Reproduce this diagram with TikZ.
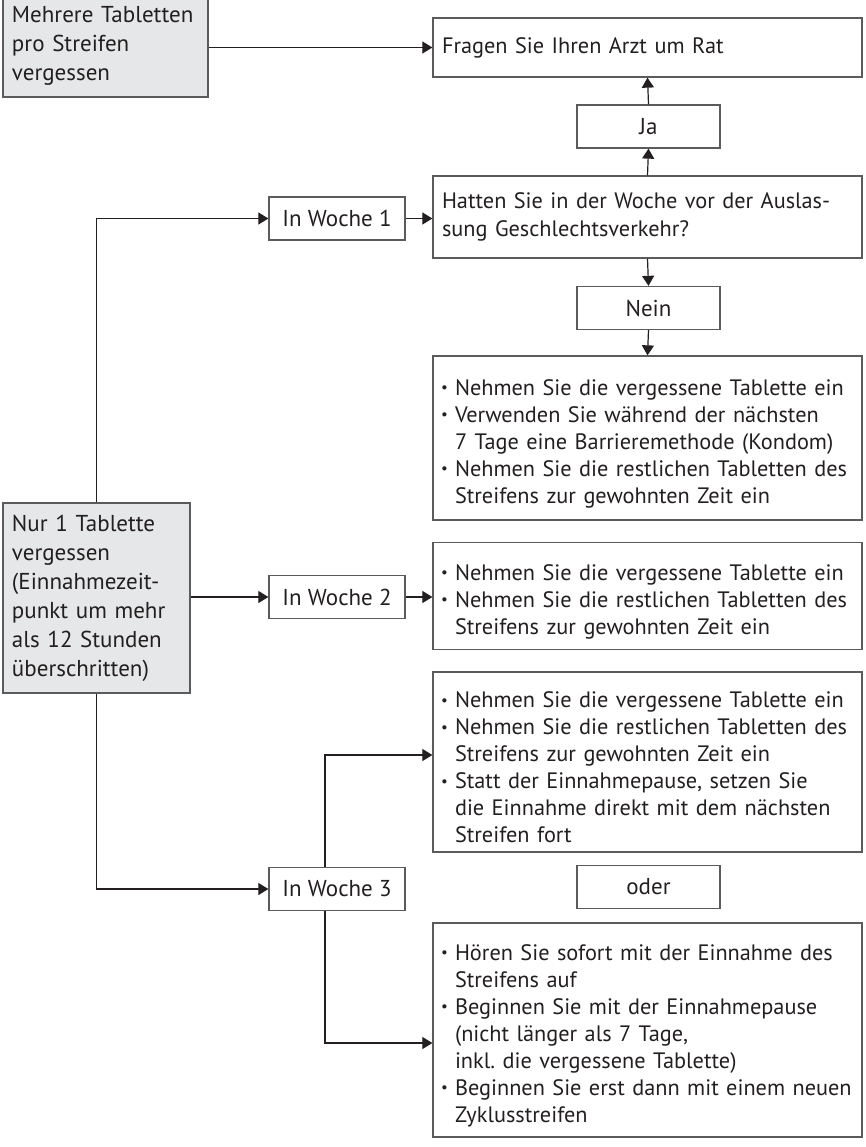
\documentclass[tikz,border=0pt]{standalone}
\usepackage{fontspec}
\setmainfont{PT Sans}
\usetikzlibrary{arrows.meta}
\setlength{\parindent}{0pt}
\frenchspacing
\definecolor{boxgray}{HTML}{E6E7E8}
\definecolor{inkgray}{HTML}{231F20}
\definecolor{framegray}{HTML}{5A5B5D}
\newcommand{\bpoint}{\par\noindent%
  \makebox[14pt][l]{\raisebox{2.5pt}{\fontsize{15}{15}\selectfont\textbullet}}}
\newcommand{\hang}{\hspace*{14pt}}
\begin{document}
\begin{tikzpicture}[x=1pt,y=-1pt,
    box/.style={draw=framegray, line width=1.3pt, text=inkgray, inner xsep=9pt,
      inner ysep=0pt, font=\fontsize{22.3}{28}\selectfont},
    greybox/.style={box, fill=boxgray, align=left, font=\fontsize{23}{29}\selectfont},
    askbox/.style={box, align=left},
    tipbox/.style={box, align=left, inner xsep=8pt, font=\fontsize{22.3}{27}\selectfont},
    smallbox/.style={box, align=center, minimum width=143pt, minimum height=43pt,
      font=\fontsize{23}{28}\selectfont},
    link/.style={-{Triangle[length=10pt,width=12pt]}, line width=1.2pt, draw=inkgray}]
  \useasboundingbox (0,0) rectangle (865,1147);
  % left column
  \node[greybox, text width=187pt, minimum height=102pt] (multi) at (105.5,46)
    {Mehrere Tabletten\\pro Streifen\\vergessen};
  \node[greybox, text width=169pt, minimum height=190pt] (nur) at (96.5,598)
    {Nur 1 Tablette\\vergessen\\(Einnahmezeit-\\punkt um mehr\\als 12 Stunden\\überschritten)};
  % weeks
  \node[smallbox, minimum width=136pt] (w1) at (337,218.5) {In Woche 1};
  \node[smallbox, minimum width=136pt] (w2) at (337,597) {In Woche 2};
  \node[smallbox, minimum width=136pt] (w3) at (337,889) {In Woche 3};
  % right column
  \node[askbox, text width=411pt, minimum height=59pt] (rat) at (647.5,47.5)
    {Fragen Sie Ihren Arzt um Rat};
  \node[smallbox] (ja) at (648.5,126.5) {Ja};
  \node[askbox, text width=411pt, minimum height=82pt] (hatten) at (647.5,217)
    {Hatten Sie in der Woche vor der Auslas-\\sung Geschlechtsverkehr?};
  \node[smallbox] (nein) at (648.5,308) {Nein};
  \node[tipbox, text width=413pt, minimum height=164pt] (tip1) at (647.5,438)
    {\bpoint Nehmen Sie die vergessene Tablette ein
     \bpoint Verwenden Sie während der nächsten\\\hang 7 Tage eine Barrieremethode (Kondom)
     \bpoint Nehmen Sie die restlichen Tabletten des\\\hang Streifens zur gewohnten Zeit ein};
  \node[tipbox, text width=413pt, minimum height=107pt] (tip2) at (647.5,596)
    {\bpoint Nehmen Sie die vergessene Tablette ein
     \bpoint Nehmen Sie die restlichen Tabletten des\\\hang Streifens zur gewohnten Zeit ein};
  \node[tipbox, text width=413pt, minimum height=180pt] (tip3) at (647.5,762)
    {\bpoint Nehmen Sie die vergessene Tablette ein
     \bpoint Nehmen Sie die restlichen Tabletten des\\\hang Streifens zur gewohnten Zeit ein
     \bpoint Statt der Einnahmepause, setzen Sie\\\hang die Einnahme direkt mit dem nächsten\\\hang Streifen fort};
  \node[smallbox] (oder) at (648.5,887) {oder};
  \node[tipbox, text width=413pt, minimum height=214pt] (tip4) at (647.5,1030)
    {\bpoint Hören Sie sofort mit der Einnahme des\\\hang Streifens auf
     \bpoint Beginnen Sie mit der Einnahmepause\\\hang (nicht länger als 7 Tage,\\\hang inkl. die vergessene Tablette)
     \bpoint Beginnen Sie erst dann mit einem neuen\\\hang Zyklusstreifen};
  % forks of week 3
  \coordinate (fork3) at (325,755);
  \coordinate (fork4) at (325,1043);
  % connectors
  \draw[link] (rat.west -| multi.east) -- (rat.west);
  \draw[link] (hatten.north) -- (ja.south);
  \draw[link] (ja.north) -- (rat.south);
  \draw[link] (hatten.south) -- (nein.north);
  \draw[link] (nein.south) -- (tip1.north);
  \draw[link] (nur.north) |- (w1.west);
  \draw[link] (w1.east) -- (w1.east -| hatten.west);
  \draw[link] (w2.west -| nur.east) -- (w2.west);
  \draw[link] (w2.east) -- (w2.east -| tip2.west);
  \draw[link] (nur.south) |- (w3.west);
  \draw[link] (w3.north -| fork3) -- (fork3) -- (fork3 -| tip3.west);
  \draw[link] (w3.south -| fork4) -- (fork4) -- (fork4 -| tip4.west);
\end{tikzpicture}
\end{document}
